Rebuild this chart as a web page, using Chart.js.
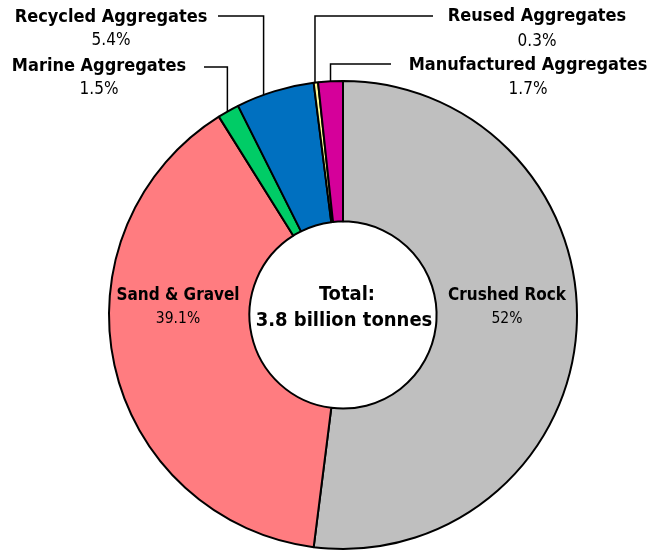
<!DOCTYPE html>
<html>
<head>
<meta charset="utf-8">
<script src="https://cdn.jsdelivr.net/npm/chart.js@4"></script>
<style>
  body { margin: 0; background: #fff; }
  canvas { display: block; }
</style>
</head>
<body>
<canvas id="chart" width="660" height="553"></canvas>
<script>
// === DATA ===
const categories = ['Crushed Rock', 'Sand & Gravel', 'Marine Aggregates', 'Recycled Aggregates', 'Reused Aggregates', 'Manufactured Aggregates'];
const shares = [52, 39.1, 1.5, 5.4, 0.3, 1.7];
const shareLabels = ['52%', '39.1%', '1.5%', '5.4%', '0.3%', '1.7%'];
const sliceColors = ['#BFBFBF', '#FF7C80', '#00CC66', '#0070C0', '#FFFF99', '#D5009A'];
const centerText = ['Total:', '3.8 billion tonnes'];

// === LABEL LAYOUT ===
// inside: text centre; outside: text centre + leader (anchor fraction along arc, elbow y, end x)
const labelLayout = [
    { inside: true, x: 507, y: 296, size: 17, pctSize: 15.5, gap: 23 },
    { inside: true, x: 178, y: 296, size: 17, pctSize: 15.5, gap: 23 },
    { x: 99, y: 66, size: 18, pctSize: 17, gap: 24, frac: 0.45, elbowY: 67, endX: 204 },
    { x: 111, y: 17, size: 18, pctSize: 17, gap: 24, frac: 0.35, elbowY: 16, endX: 218 },
    { x: 537, y: 16, size: 18, pctSize: 17, gap: 26, frac: 0.3, elbowY: 16, endX: 433 },
    { x: 528, y: 65, size: 18, pctSize: 17, gap: 25, frac: 0.5, elbowY: 64, endX: 391 }
];

const FONT = '"DejaVu Sans Condensed", "DejaVu Sans", sans-serif';

const labelPlugin = {
    id: 'sliceLabels',
    afterDraw(chart) {
        const ctx = chart.ctx;
        const arcs = chart.getDatasetMeta(0).data;
        ctx.save();
        ctx.textAlign = 'center';
        ctx.textBaseline = 'middle';
        ctx.fillStyle = '#000';

        arcs.forEach((arc, i) => {
            const lay = labelLayout[i];
            if (!lay.inside) {
                const a = arc.startAngle + lay.frac * (arc.endAngle - arc.startAngle);
                const px = arc.x + arc.outerRadius * Math.cos(a);
                const py = arc.y + arc.outerRadius * Math.sin(a);
                ctx.beginPath();
                ctx.strokeStyle = '#000';
                ctx.lineWidth = 1.5;
                ctx.moveTo(px, py);
                ctx.lineTo(px, lay.elbowY);
                ctx.lineTo(lay.endX, lay.elbowY);
                ctx.stroke();
            }
            ctx.font = `bold ${lay.size}px ${FONT}`;
            ctx.fillText(categories[i], lay.x, lay.y);
            ctx.font = `${lay.pctSize}px ${FONT}`;
            ctx.fillText(shareLabels[i], lay.x, lay.y + lay.gap);
        });

        // centre text
        const c = arcs[0];
        ctx.font = `bold 20px ${FONT}`;
        ctx.fillText(centerText[0], c.x + 4, c.y - 20);
        ctx.fillText(centerText[1], c.x + 1, c.y + 6);
        ctx.restore();
    }
};

new Chart(document.getElementById('chart'), {
    type: 'doughnut',
    data: {
        labels: categories,
        datasets: [{
            data: shares,
            backgroundColor: sliceColors,
            borderColor: '#000',
            borderWidth: 2
        }]
    },
    options: {
        responsive: false,
        animation: false,
        cutout: '40%',
        layout: { padding: { top: 80, bottom: 3, left: 26, right: 0 } },
        plugins: {
            legend: { display: false },
            tooltip: { enabled: false }
        }
    },
    plugins: [labelPlugin]
});
</script>
</body>
</html>
